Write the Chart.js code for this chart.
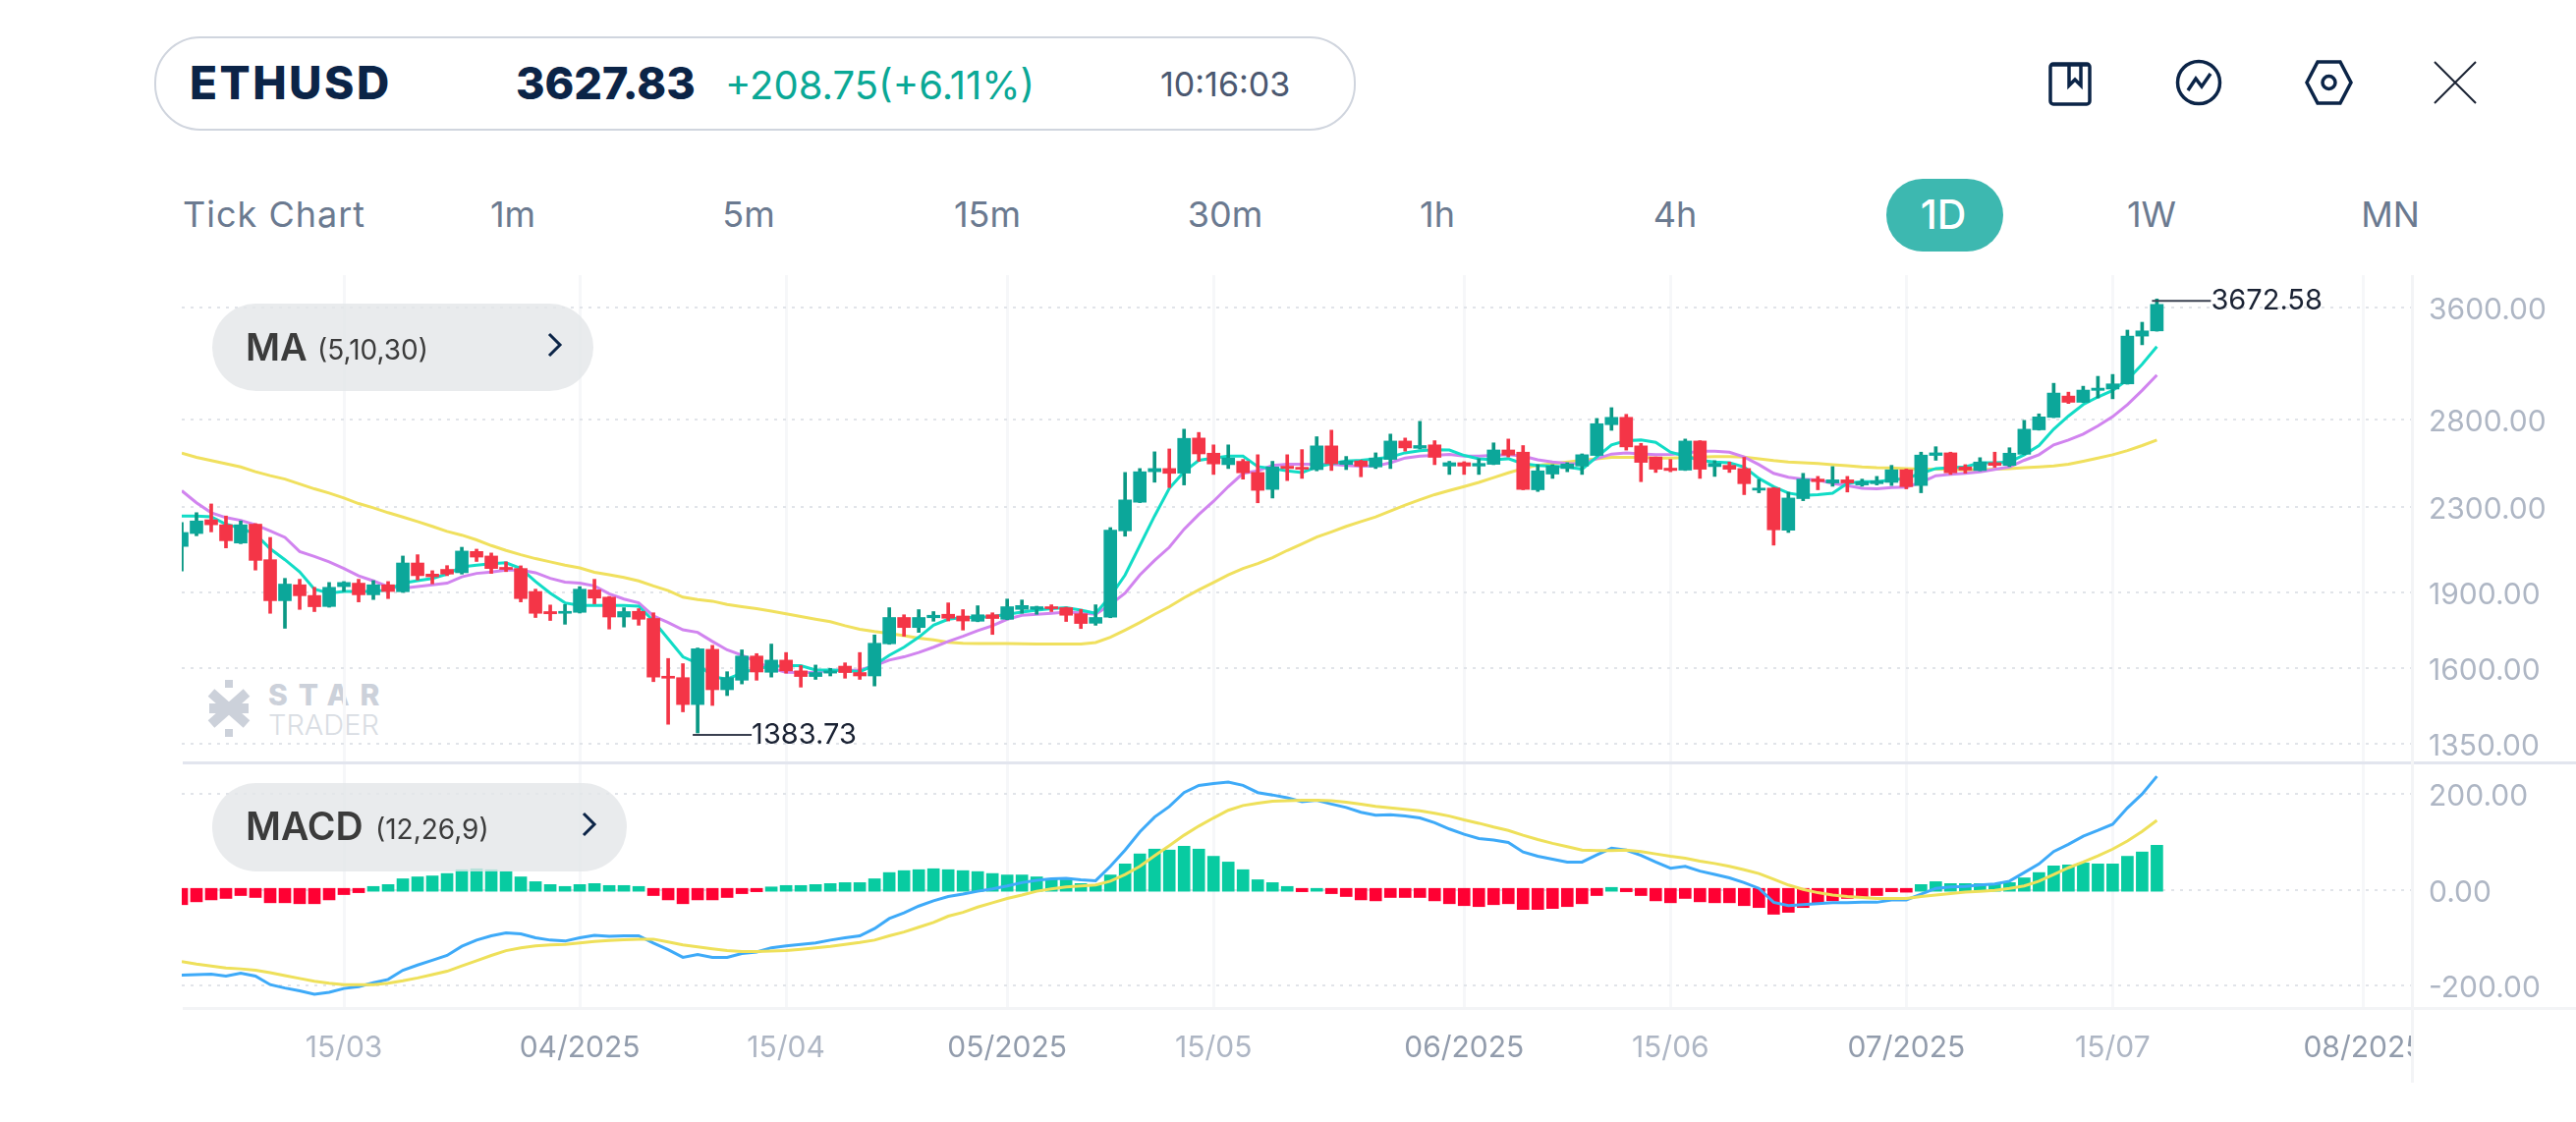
<!DOCTYPE html>
<html>
<head>
<meta charset="utf-8">
<title>ETHUSD</title>
<script src="https://cdn.jsdelivr.net/npm/chart.js@4/dist/chart.umd.min.js"></script>
<style>
    html, body { margin: 0; padding: 0; background: #fff; }
    body { position: relative; width: 2622px; height: 1142px; overflow: hidden; font-family: Inter, sans-serif; }
    .abs { position: absolute; white-space: nowrap; }
    canvas { position: absolute; display: block; }
    .period { top: 196px; font-size: 36px; line-height: 44px; color: #6b7a90; transform: translateX(-50%); }
    .pill { background: rgba(228, 230, 233, 0.8); border-radius: 45px; }
    .pill-name { font-size: 38px; font-weight: 600; color: #3b3b3b; line-height: 44px; }
    .pill-args { font-size: 28px; color: #3b3b3b; line-height: 44px; }
    .rule { position: absolute; }
</style>
</head>
<body>

<!-- header -->
<div class="abs" style="left:193px;top:37px;width:0;height:0;"></div>
<div class="abs" style="left:157px;top:37px;width:1219px;height:92px;border:2px solid #d0d5de;border-radius:47px;"></div>
<div class="abs" style="left:193px;top:57px;font-size:46px;line-height:54px;font-weight:800;color:#0b2447;letter-spacing:2.500px;">ETHUSD</div>
<div class="abs" style="left:525px;top:58px;font-size:45px;line-height:54px;font-weight:800;color:#0b2447;">3627.83</div>
<div class="abs" style="left:738px;top:60px;font-size:40px;line-height:54px;color:#0aa896;">+208.75(+6.11%)</div>
<div class="abs" style="left:1181px;top:62px;font-size:34px;line-height:48px;color:#4b5870;">10:16:03</div>

<svg class="abs" style="left:2080px;top:55px;" width="450" height="60" fill="none" stroke="#0b2447" stroke-width="3.5">
    <rect x="7" y="10" width="40" height="41" rx="3"/>
    <path d="M7 11 H47 M26 11 V32 L32 26 L38 32 V11"/>
    <circle cx="158" cy="29" r="21.5"/>
    <path d="M147 37 L155 25 L161 33 L170 20"/>
    <path d="M279 8 H302 L313 29 L302 50 H279 L268 29 Z"/>
    <circle cx="290.500" cy="29" r="6.500"/>
    <path d="M398 8 L440 50 M440 8 L398 50" stroke="#1a2233" stroke-width="2"/>
</svg>

<!-- period row -->
<div class="abs" style="left:186px;top:196px;font-size:36px;line-height:44px;color:#6b7a90;letter-spacing:1px;">Tick Chart</div>
<div class="abs period" style="left:522px;">1m</div>
<div class="abs period" style="left:762px;">5m</div>
<div class="abs period" style="left:1005px;">15m</div>
<div class="abs period" style="left:1247px;">30m</div>
<div class="abs period" style="left:1463px;">1h</div>
<div class="abs period" style="left:1705px;">4h</div>
<div class="abs" style="left:1920px;top:182px;width:119px;height:74px;background:#3db8b0;border-radius:37px;"></div>
<div class="abs period" style="left:1978px;color:#fff;font-weight:500;font-size:41px;">1D</div>
<div class="abs period" style="left:2190px;">1W</div>
<div class="abs period" style="left:2433px;">MN</div>

<!-- watermark sits under the chart -->
<svg class="abs" style="left:205px;top:688px;" width="56" height="66" stroke="#ccd1da" fill="#ccd1da">
    <path d="M28 33 L10 17 M28 33 L46 17 M28 33 L10 49 M28 33 L46 49 M8 33 H48" stroke-width="10" fill="none"/>
    <rect x="24" y="4" width="8" height="8" stroke="none"/>
    <rect x="24" y="54" width="8" height="8" stroke="none"/>
</svg>
<div class="abs" style="left:273px;top:688px;font-size:30px;line-height:38px;font-weight:800;color:#ccd1da;letter-spacing:11px;">STAR</div>
<div class="abs" style="left:273px;top:720px;font-size:29px;line-height:36px;font-weight:300;color:#d9dde3;">TRADER</div>

<canvas id="priceChart" width="2437" height="496" style="left:185px;top:280px;"></canvas>
<canvas id="macdChart" width="2437" height="334" style="left:185px;top:776px;"></canvas>

<div class="rule" style="left:186px;right:0;top:775px;height:3px;background:#e2e5ee;"></div>
<div class="rule" style="left:186px;right:0;top:1025px;height:3px;background:#f3f4f6;"></div>
<div class="rule" style="left:2454px;width:3px;top:280px;height:822px;background:#f3f4f6;"></div>

<!-- indicator pills -->
<div class="abs pill" style="left:216px;top:309px;width:388px;height:89px;"></div>
<div class="abs pill-name" style="left:250px;top:331px;">MA</div>
<div class="abs pill-args" style="left:323px;top:334px;">(5,10,30)</div>
<svg class="abs" style="left:555px;top:337px;" width="18" height="28" fill="none" stroke="#0b2447" stroke-width="3"><path d="M4 3 L15 14 L4 25"/></svg>

<div class="abs pill" style="left:216px;top:797px;width:422px;height:90px;"></div>
<div class="abs pill-name" style="left:250px;top:819px;font-size:39px;">MACD</div>
<div class="abs pill-args" style="left:382px;top:822px;">(12,26,9)</div>
<svg class="abs" style="left:590px;top:825px;" width="18" height="28" fill="none" stroke="#0b2447" stroke-width="3"><path d="M4 3 L15 14 L4 25"/></svg>

<script>
const opens = [
    2105,2167,2235,2210,2121,2213,2043,1863,1931,1885,
    1839,1923,1938,1888,1931,1901,2028,1978,1999,1984,
    2081,2060,2008,2003,1902,1818,1811,1815,1909,1878,
    1796,1819,1790,1572,1567,1475,1670,1525,1558,1645,
    1586,1630,1591,1571,1583,1608,1585,1573,1691,1794,
    1754,1793,1807,1800,1779,1805,1787,1827,1827,1838,
    1834,1809,1771,1795,2180,2325,2490,2508,2482,2686,
    2596,2530,2549,2486,2393,2521,2515,2502,2639,2531,
    2551,2517,2560,2668,2625,2645,2522,2541,2522,2532,
    2615,2602,2391,2477,2508,2522,2583,2768,2814,2639,
    2574,2510,2499,2668,2519,2526,2508,2389,2400,2183,
    2344,2449,2428,2445,2417,2424,2431,2501,2414,2583,
    2598,2517,2497,2541,2526,2590,2736,2814,2952,2911,
    2990,2999,3034,3378,3418,
];
const closes = [
    2172,2229,2210,2132,2210,2040,1863,1934,1884,1838,
    1920,1941,1888,1931,1902,2028,1971,1966,1978,2083,
    2055,2003,1999,1872,1811,1809,1819,1912,1874,1796,
    1818,1787,1569,1565,1475,1672,1525,1567,1645,1587,
    1630,1591,1571,1585,1591,1585,1573,1693,1794,1754,
    1794,1803,1791,1780,1805,1790,1838,1843,1838,1830,
    1803,1770,1794,2183,2337,2490,2508,2481,2684,2592,
    2534,2568,2484,2388,2517,2508,2504,2639,2535,2551,
    2521,2568,2668,2627,2641,2572,2541,2522,2537,2615,
    2585,2393,2495,2522,2534,2587,2774,2814,2633,2543,
    2504,2497,2668,2504,2537,2504,2424,2400,2185,2347,
    2449,2435,2445,2428,2435,2439,2501,2408,2585,2598,
    2484,2499,2545,2526,2596,2740,2817,2972,2911,2992,
    3005,3034,3378,3418,3627.83,
];
const highs = [
    2221,2271,2316,2254,2229,2216,2148,1959,1955,1920,
    1941,1945,1955,1949,1945,2060,2066,1993,2016,2101,
    2092,2074,2033,2015,1912,1845,1847,1923,1955,1881,
    1834,1830,1813,1636,1617,1675,1685,1588,1668,1654,
    1690,1658,1610,1612,1600,1620,1658,1725,1834,1805,
    1826,1818,1854,1826,1842,1813,1870,1866,1840,1846,
    1836,1827,1846,2196,2486,2508,2604,2621,2740,2720,
    2645,2645,2560,2587,2549,2587,2617,2694,2734,2577,
    2555,2598,2710,2686,2789,2670,2549,2547,2564,2657,
    2680,2641,2530,2530,2541,2592,2807,2876,2833,2654,
    2574,2560,2680,2670,2553,2545,2572,2447,2403,2378,
    2481,2464,2519,2464,2449,2464,2526,2505,2602,2634,
    2602,2530,2570,2602,2628,2795,2836,3038,2978,3018,
    3086,3099,3424,3485,3672.58,
];
const lows = [
    1992,2156,2175,2098,2118,1996,1811,1751,1827,1818,
    1836,1902,1858,1868,1872,1898,1952,1935,1971,1978,
    2035,1981,1989,1858,1794,1782,1767,1812,1850,1748,
    1756,1763,1553,1411,1451,1383.73,1472,1505,1545,1558,
    1569,1583,1534,1561,1573,1565,1561,1538,1689,1720,
    1735,1779,1780,1744,1777,1727,1785,1811,1807,1818,
    1778,1750,1763,1793,2154,2323,2432,2403,2417,2549,
    2475,2508,2449,2322,2347,2441,2453,2495,2497,2502,
    2462,2508,2508,2608,2621,2530,2475,2475,2475,2530,
    2574,2391,2382,2453,2490,2475,2581,2733,2614,2435,
    2486,2490,2497,2453,2464,2486,2365,2375,2111,2172,
    2333,2391,2410,2379,2410,2417,2414,2396,2375,2555,
    2475,2482,2495,2515,2519,2587,2734,2812,2903,2909,
    2939,2934,3032,3313,3416,
];

const ma5 = [
    2254,2254,2250,2213,2193,2164,2094,2043,1988,1912,
    1895,1902,1902,1902,1909,1938,1949,1959,1978,2010,
    2018,2025,2029,2003,1945,1895,1854,1843,1843,1843,
    1843,1840,1780,1710,1642,1618,1570,1562,1583,1600,
    1606,1610,1610,1594,1594,1592,1588,1612,1648,1678,
    1716,1763,1787,1794,1794,1798,1807,1816,1824,1830,
    1834,1824,1811,1881,1974,2109,2254,2399,2490,2555,
    2568,2579,2579,2519,2508,2495,2486,2517,2535,2551,
    2555,2564,2574,2598,2611,2617,2615,2583,2564,2558,
    2564,2535,2526,2521,2517,2504,2574,2645,2670,2674,
    2660,2602,2579,2555,2545,2541,2517,2453,2408,2373,
    2361,2365,2373,2426,2435,2435,2444,2453,2481,2508,
    2513,2517,2541,2541,2545,2587,2641,2740,2822,2896,
    2946,2990,3061,3171,3300,
];
const ma10 = [
    2386,2322,2271,2246,2232,2210,2180,2148,2081,2058,
    2033,2003,1970,1948,1923,1916,1923,1931,1938,1966,
    1981,1987,1996,1996,1984,1959,1943,1938,1926,1892,
    1870,1854,1800,1774,1745,1735,1700,1668,1648,1624,
    1600,1586,1585,1586,1594,1592,1594,1610,1630,1642,
    1658,1678,1700,1720,1742,1761,1787,1803,1807,1811,
    1816,1813,1807,1847,1895,1974,2040,2101,2188,2262,
    2330,2408,2481,2495,2526,2532,2532,2532,2532,2526,
    2521,2522,2541,2568,2579,2583,2589,2579,2579,2583,
    2587,2579,2558,2545,2537,2535,2564,2591,2598,2592,
    2587,2589,2596,2608,2608,2602,2574,2530,2481,2459,
    2449,2444,2426,2414,2399,2396,2403,2406,2431,2468,
    2475,2481,2490,2503,2517,2555,2587,2645,2674,2710,
    2760,2818,2896,2990,3095,
];
const ma30 = [
    2596,2572,2553,2535,2517,2490,2468,2449,2422,2396,
    2373,2347,2318,2296,2271,2249,2226,2202,2177,2159,
    2136,2109,2086,2066,2048,2033,2018,2006,1986,1975,
    1963,1948,1926,1906,1878,1868,1861,1847,1838,1830,
    1820,1809,1798,1787,1777,1761,1747,1738,1731,1722,
    1713,1706,1697,1693,1692,1692,1692,1691,1690,1690,
    1690,1690,1696,1716,1744,1774,1807,1838,1875,1909,
    1941,1974,2003,2025,2052,2086,2117,2150,2175,2202,
    2226,2249,2279,2310,2338,2365,2387,2408,2431,2457,
    2484,2508,2526,2535,2545,2555,2564,2572,2572,2572,
    2568,2568,2570,2574,2576,2576,2574,2564,2553,2545,
    2541,2537,2530,2524,2517,2513,2511,2508,2504,2504,
    2503,2501,2501,2504,2508,2513,2517,2522,2532,2549,
    2568,2587,2611,2641,2674,
];

const macdHist = [
    -31,-25,-21,-18,-12,-16,-27,-27,-29,-29,
    -21,-10,-6,7,11,23,27,29,34,42,
    44,42,38,27,17,11,7,11,13,9,
    9,7,-12,-21,-29,-21,-21,-16,-8,-4,
    6,9,9,11,13,15,15,23,36,40,
    42,44,42,40,38,34,31,31,27,23,
    21,13,11,31,54,75,85,83,91,85,
    70,58,42,21,15,7,-4,3,-8,-14,
    -21,-23,-16,-16,-16,-23,-29,-33,-35,-31,
    -29,-41,-41,-39,-35,-29,-12,5,-4,-12,
    -23,-27,-18,-25,-27,-27,-33,-37,-51,-47,
    -37,-27,-23,-18,-14,-12,-4,-5,11,17,
    13,13,13,13,15,25,36,50,52,56,
    54,54,70,79,93,
];
const macdLine = [
    -178,-177,-176,-180,-174,-180,-198,-205,-211,-218,
    -214,-206,-202,-194,-187,-168,-157,-147,-137,-118,
    -105,-96,-90,-92,-100,-105,-107,-100,-95,-97,
    -96,-96,-111,-125,-141,-135,-141,-141,-133,-130,
    -121,-117,-114,-111,-105,-100,-96,-81,-60,-48,
    -34,-23,-14,-9,-3,2,8,15,20,23,
    24,21,19,49,83,121,152,174,203,218,
    222,225,218,203,198,192,184,187,179,172,
    162,156,157,154,150,140,127,116,107,104,
    99,79,70,64,58,58,73,87,83,72,
    58,45,49,39,32,25,15,3,-26,-33,
    -31,-29,-27,-27,-26,-26,-21,-21,-9,3,
    6,7,10,12,18,36,54,80,95,112,
    124,137,171,200,237,
];
const macdSignal = [
    -150,-155,-159,-163,-165,-168,-173,-179,-185,-191,
    -195,-198,-198,-198,-195,-190,-184,-177,-170,-159,
    -148,-137,-127,-121,-117,-115,-114,-111,-108,-106,
    -104,-103,-103,-109,-115,-119,-123,-127,-129,-129,
    -128,-127,-124,-121,-118,-114,-110,-105,-96,-88,
    -78,-68,-55,-47,-36,-27,-18,-11,-3,2,
    6,8,10,18,32,49,71,92,114,133,
    150,166,176,181,185,186,187,187,186,183,
    179,174,171,168,165,160,154,146,139,131,
    124,114,105,97,90,83,82,82,83,80,
    75,70,66,60,55,49,42,34,22,10,
    1,-6,-11,-14,-16,-18,-18,-18,-14,-11,
    -8,-5,-3,-1,3,8,18,32,46,58,
    71,85,102,122,145,
];

// candle index of each date label, the axis runs on past the last candle
const dateTicks = [11, 27, 41, 56, 70, 87, 101, 117, 131, 148];
const dateLabels = ["15/03", "04/2025", "15/04", "05/2025", "15/05", "06/2025", "15/06", "07/2025", "15/07", "08/2025"];
const priceTicks = [3600, 2800, 2300, 1900, 1600, 1350];
const macdTicks = [200, 0, -200];

const lastSlot = 151.37;
const axisFont = { family: "Inter", size: 30 };
const axisColor = "#aeb6c4";
const green = "#0ca79a";
const wickGreen = "#0a9884";
const red = "#f43547";

const isUp = (i) => closes[i] >= opens[i];
const bodies = opens.map((open, i) => ({ x: i, y: [open, closes[i]] }));
const wicks = lows.map((low, i) => ({ x: i, y: [low, highs[i]] }));
const toPoints = (values) => values.map((value, i) => ({ x: i, y: value }));

function lineSet(values, color, order) {
    return {
        type: "line",
        data: toPoints(values),
        borderColor: color,
        borderWidth: 3,
        pointRadius: 0,
        tension: 0,
        order: order,
    };
}

function noPadding(axis) {
    axis.paddingTop = 0;
    axis.paddingBottom = 0;
    axis.paddingLeft = 0;
    axis.paddingRight = 0;
}

function dateAxis(showLabels) {
    return {
        type: "linear",
        min: 0,
        max: lastSlot,
        offset: false,
        grid: { color: "#f6f7f9", lineWidth: 3, offset: false, drawTicks: false },
        border: { display: false },
        afterBuildTicks: (axis) => {
            axis.ticks = dateTicks.map((value) => ({ value }));
        },
        afterFit: (axis) => {
            axis.height = showLabels ? 84 : 0;
            noPadding(axis);
        },
        ticks: {
            display: showLabels,
            autoSkip: false,
            maxRotation: 0,
            padding: 23,
            color: (ctx) => (ctx.index % 2 ? "#929cac" : axisColor),
            font: axisFont,
            callback: (value) => dateLabels[dateTicks.indexOf(value)],
        },
    };
}

function valueAxis(type, min, max, tickValues) {
    return {
        type: type,
        position: "right",
        min: min,
        max: max,
        bounds: "data",
        grid: { color: "#e1e4e9", lineWidth: 2, drawTicks: false },
        border: { display: false, dash: [3, 6] },
        afterBuildTicks: (axis) => {
            axis.ticks = tickValues.map((value) => ({ value }));
        },
        afterFit: (axis) => {
            axis.width = 166;
            noPadding(axis);
        },
        ticks: {
            autoSkip: false,
            padding: 16,
            labelOffset: 3,
            color: axisColor,
            font: axisFont,
            callback: (value) => value.toFixed(2),
        },
    };
}

// thin line and price next to the highest and the lowest candle
const extremeLabels = {
    id: "extremeLabels",
    afterDatasetsDraw(chart) {
        const ctx = chart.ctx;
        const { x, y } = chart.scales;
        const high = Math.max(...highs);
        const low = Math.min(...lows);

        [[highs.indexOf(high), high], [lows.indexOf(low), low]].forEach(([index, value]) => {
            const px = x.getPixelForValue(index);
            const py = y.getPixelForValue(value) + 2;

            ctx.save();
            ctx.strokeStyle = "#3a4050";
            ctx.lineWidth = 2;
            ctx.beginPath();
            ctx.moveTo(px - 5, py);
            ctx.lineTo(px + 55, py);
            ctx.stroke();
            ctx.fillStyle = "#1a2233";
            ctx.font = "29px Inter";
            ctx.textBaseline = "middle";
            ctx.fillText(value.toFixed(2), px + 55, py);
            ctx.restore();
        });
    },
};

// the last date label is cut off where the price axis starts
const clipDateLabel = {
    id: "clipDateLabel",
    afterDraw(chart) {
        const area = chart.chartArea;
        chart.ctx.clearRect(area.right, area.bottom + 2, chart.width - area.right, chart.height - area.bottom);
    },
};

new Chart(document.getElementById("priceChart"), {
    type: "bar",
    data: {
        datasets: [
            { data: bodies, backgroundColor: opens.map((_, i) => (isUp(i) ? green : red)), barThickness: 13, grouped: false, order: 1 },
            { data: wicks, backgroundColor: opens.map((_, i) => (isUp(i) ? wickGreen : red)), barThickness: 3, grouped: false, order: 2 },
            lineSet(ma5, "#12dcc6", 3),
            lineSet(ma10, "#d184ef", 4),
            lineSet(ma30, "#f0e05e", 5),
        ],
    },
    options: {
        responsive: false,
        animation: false,
        events: [],
        plugins: { legend: { display: false }, tooltip: { enabled: false } },
        scales: {
            x: dateAxis(false),
            y: valueAxis("logarithmic", 1295, 3875, priceTicks),
        },
    },
    plugins: [extremeLabels],
});

new Chart(document.getElementById("macdChart"), {
    type: "bar",
    data: {
        datasets: [
            lineSet(macdSignal, "#eee05a", 1),
            lineSet(macdLine, "#3eaaf8", 2),
            // bars start a little past zero, on the other side of it
            { data: toPoints(macdHist).filter((p) => p.y >= 0), backgroundColor: "#08cba1", base: -3, barThickness: 12, grouped: false, order: 3 },
            { data: toPoints(macdHist).filter((p) => p.y < 0), backgroundColor: "#ff0033", base: 3, barThickness: 12, grouped: false, order: 3 },
        ],
    },
    options: {
        responsive: false,
        animation: false,
        events: [],
        plugins: { legend: { display: false }, tooltip: { enabled: false } },
        scales: {
            x: dateAxis(true),
            y: valueAxis("linear", -246.8, 266, macdTicks),
        },
    },
    plugins: [clipDateLabel],
});
</script>
</body>
</html>
